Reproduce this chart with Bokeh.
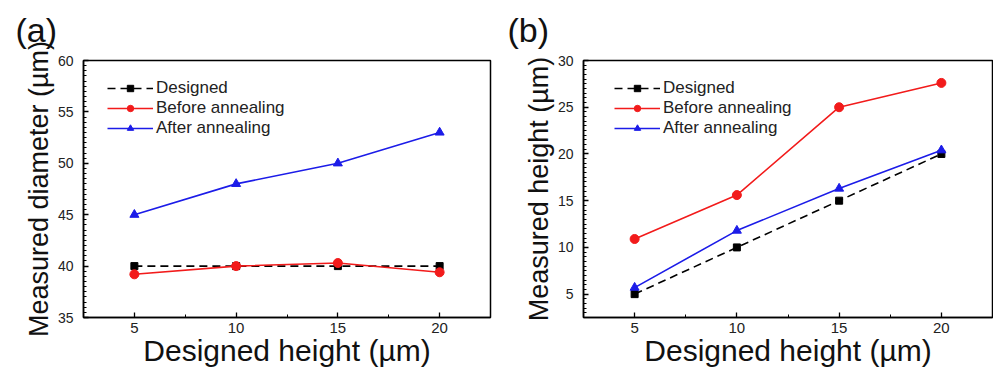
from bokeh.plotting import figure
from bokeh.layouts import row
from bokeh.models import Range1d, SingleIntervalTicker, FixedTicker
from bokeh.embed import file_html
from bokeh.resources import INLINE

# ---- data ----
designed_height = [5, 10, 15, 20]

diam_designed = [40, 40, 40, 40]
diam_before = [39.2, 40.0, 40.3, 39.4]
diam_after = [45, 48, 50, 53]

height_designed = [5, 10, 15, 20]
height_before = [10.9, 15.6, 25.0, 27.6]
height_after = [5.7, 11.8, 16.3, 20.4]

x_ticks = [5, 10, 15, 20]
x_minor_ticks = [7.5, 12.5, 17.5]

series_names = ["Designed", "Before annealing", "After annealing"]

FONT = "Liberation Sans"
RED = "#f21b1b"
BLUE = "#1c1ce8"


def make_panel(tag, ylabel, yrange, ys, width, bl, br, legend_x, title_off):
    p = figure(width=width, height=372, x_range=Range1d(2.5, 22.5),
               y_range=Range1d(*yrange), output_backend="svg",
               toolbar_location=None, min_border_left=bl, min_border_right=br,
               min_border_top=60, min_border_bottom=55, title=tag)
    p.title.align = "left"
    p.title.vertical_align = "top"
    p.title.offset = title_off
    p.title.text_font = FONT
    p.title.text_font_size = "34px"
    p.title.text_font_style = "normal"
    p.title.text_color = "#111"
    p.title.standoff = 19

    p.xgrid.visible = False
    p.ygrid.visible = False
    p.outline_line_color = "black"
    p.outline_line_width = 1.5
    p.outline_line_alpha = 1

    p.xaxis.ticker = FixedTicker(ticks=x_ticks, minor_ticks=x_minor_ticks)
    p.yaxis.ticker = SingleIntervalTicker(interval=5, num_minor_ticks=10)
    p.xaxis.axis_label = "Designed height (µm)"
    p.yaxis.axis_label = ylabel
    for ax in (p.xaxis, p.yaxis):
        ax.axis_line_color = "black"
        ax.axis_line_width = 1.5
        ax.major_tick_line_color = "black"
        ax.minor_tick_line_color = "black"
        ax.major_tick_line_width = 1.3
        ax.minor_tick_line_width = 1
        ax.major_tick_in = 5
        ax.major_tick_out = 0
        ax.minor_tick_in = 3
        ax.minor_tick_out = 0
        ax.major_label_text_font = FONT
        ax.major_label_text_color = "#222"
        ax.axis_label_text_font = FONT
        ax.axis_label_text_font_style = "normal"
        ax.axis_label_text_color = "#111"
    p.xaxis.major_label_text_font_size = "15px"
    p.yaxis.major_label_text_font_size = "14px"
    p.xaxis.axis_label_text_font_size = "30px"
    p.yaxis.axis_label_text_font_size = "27px"
    p.xaxis.major_label_standoff = 5
    p.xaxis.axis_label_standoff = -2
    p.yaxis.major_label_standoff = 10
    p.yaxis.axis_label_standoff = 1

    d, b, a = ys
    p.line(designed_height, d, line_color="black", line_width=1.6,
           line_dash="8 5", legend_label=series_names[0])
    p.scatter(designed_height, d, marker="square", size=7, color="black",
              legend_label=series_names[0])
    p.line(designed_height, b, line_color=RED, line_width=1.6,
           legend_label=series_names[1])
    p.scatter(designed_height, b, marker="circle", size=9, color=RED,
              legend_label=series_names[1])
    p.line(designed_height, a, line_color=BLUE, line_width=1.6,
           legend_label=series_names[2])
    p.scatter(designed_height, a, marker="triangle", size=9, color=BLUE,
              legend_label=series_names[2])

    lg = p.legend[0]
    lg.location = (legend_x, 179)
    lg.padding = 0
    lg.margin = 0
    lg.spacing = -1
    lg.border_line_alpha = 0
    lg.background_fill_alpha = 0
    lg.glyph_width = 46
    lg.glyph_height = 16
    lg.label_height = 16
    lg.label_standoff = 3
    lg.label_text_font = FONT
    lg.label_text_font_size = "17px"
    lg.label_text_color = "#222"
    return p


pa = make_panel("(a)", "Measured diameter (µm)", (35, 60),
                (diam_designed, diam_before, diam_after),
                width=492, bl=83, br=2, legend_x=24, title_off=-68)
pb = make_panel("(b)", "Measured height (µm)", (2.5, 30),
                (height_designed, height_before, height_after),
                width=501, bl=91, br=1, legend_x=31, title_off=-76)

layout = row(pa, pb)
open("out.html", "w").write(file_html(layout, INLINE))
